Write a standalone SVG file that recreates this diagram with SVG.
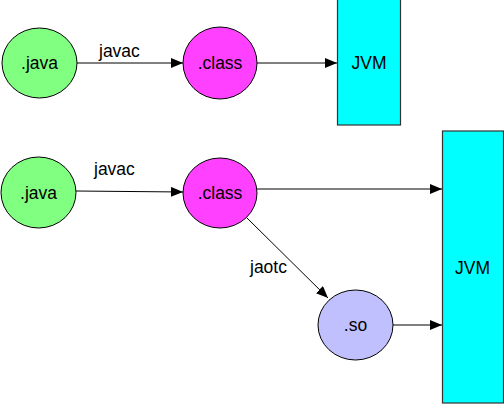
<svg xmlns="http://www.w3.org/2000/svg" width="504" height="404" viewBox="0 0 504 404">
<style>
.n{stroke:#000;stroke-width:1}
.r{stroke:#333;stroke-width:1.2}
.t{font-family:"Liberation Sans",Arial,sans-serif;font-size:17.5px;fill:#000;text-anchor:middle}
.l{font-family:"Liberation Sans",Arial,sans-serif;font-size:17.5px;fill:#000}
.c{stroke:#000;stroke-width:1;fill:none;marker-end:url(#ah)}
</style>
<defs>
<marker id="ah" markerWidth="12" markerHeight="10" refX="12" refY="5" orient="auto" markerUnits="userSpaceOnUse">
<path d="M0,0 L12,5 L0,10 Z" fill="#000"/>
</marker>
</defs>
<rect width="504" height="404" fill="#fff"/>
<g id="connectors">
<line class="c" x1="77" y1="63" x2="183" y2="63"/>
<line class="c" x1="257" y1="63" x2="337" y2="63"/>
<line class="c" x1="76" y1="191" x2="183" y2="192"/>
<line class="c" x1="257" y1="189" x2="442" y2="189"/>
<line class="c" x1="247" y1="218" x2="328" y2="298"/>
<line class="c" x1="393" y1="325" x2="442" y2="325"/>
<text class="l" x="99" y="57">javac</text>
<text class="l" x="94" y="175">javac</text>
<text class="l" x="250" y="273">jaotc</text>
</g>
<g id="java1"><ellipse class="n" cx="39.5" cy="63" rx="37.5" ry="35" fill="#80FF80"/><text class="t" x="39.5" y="69">.java</text></g>
<g id="class1"><ellipse class="n" cx="220" cy="63" rx="37" ry="36" fill="#FF40FF"/><text class="t" x="220" y="69">.class</text></g>
<g id="jvm1"><rect class="r" x="337.5" y="-1" width="63" height="126" fill="#00FFFF"/><text class="t" x="369" y="69">JVM</text></g>
<g id="java2"><ellipse class="n" cx="38.5" cy="192.5" rx="37.5" ry="35.5" fill="#80FF80"/><text class="t" x="38.5" y="198.5">.java</text></g>
<g id="class2"><ellipse class="n" cx="220" cy="193" rx="37" ry="35" fill="#FF40FF"/><text class="t" x="220" y="199">.class</text></g>
<g id="so"><ellipse class="n" cx="355.5" cy="325" rx="37.5" ry="35" fill="#C0C0FF"/><text class="t" x="355.5" y="331">.so</text></g>
<g id="jvm2"><rect class="r" x="442.5" y="131" width="61" height="272" fill="#00FFFF"/><text class="t" x="472.5" y="274">JVM</text></g>
</svg>
